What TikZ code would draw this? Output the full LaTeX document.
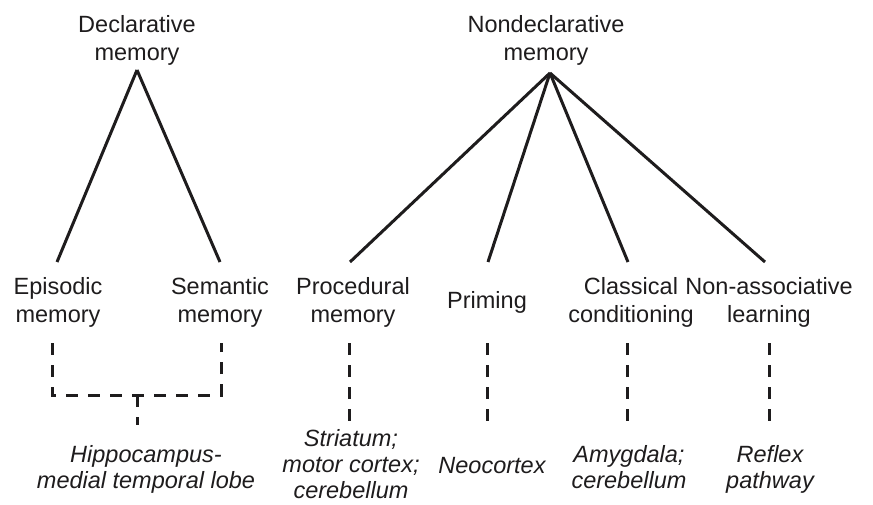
\documentclass[tikz,border=0pt]{standalone}
\usepackage{fontspec}
\setmainfont{Liberation Sans}
\usepackage{tikz}
\definecolor{ink}{RGB}{30,28,29}

\begin{document}
\begin{tikzpicture}[x=1pt,y=-1pt,
    lbl/.style={align=center,inner sep=0pt,anchor=base,text=ink,font=\fontsize{23.5}{28}\selectfont},
    area/.style={lbl,font=\fontsize{23.5}{26}\selectfont\itshape},
    tie/.style={draw=ink,line width=3pt},
    link/.style={tie,dash pattern=on 12pt off 10pt}]
        \useasboundingbox (0,0) rectangle (873,505);

        \node[lbl] (decl) at (137,61) {Declarative\\memory};
        \node[lbl] (nondecl) at (546,61) {Nondeclarative\\memory};
        \coordinate (dtop) at (137,70);
        \coordinate (ntop) at (550,73);

        \node[lbl] (epi) at (58,322) {Episodic\\memory};
        \node[lbl] (sem) at (220,322) {Semantic\\memory};
        \node[lbl] (proc) at (353,322) {Procedural\\memory};
        \node[lbl] (prim) at (487,308) {Priming};
        \node[lbl] (class) at (631,322) {Classical\\conditioning};
        \node[lbl] (nonass) at (769,322) {Non-associative\\learning};

        \coordinate (epiend) at (57,262);
        \coordinate (semend) at (220,262);
        \coordinate (procend) at (350,262);
        \coordinate (primend) at (488,262);
        \coordinate (classend) at (628,262);
        \coordinate (nonassend) at (765,262);
        \draw[tie] (dtop) -- (epiend);
        \draw[tie] (dtop) -- (semend);
        \draw[tie] (ntop) -- (procend);
        \draw[tie] (ntop) -- (primend);
        \draw[tie] (ntop) -- (classend);
        \draw[tie] (ntop) -- (nonassend);

        \node[area] (hip) at (146,488) {Hippocampus-\\medial temporal lobe};
        \node[area] (stri) at (351,498) {Striatum;\\motor cortex;\\cerebellum};
        \node[area] (neo) at (492,473) {Neocortex};
        \node[area] (amy) at (629,488) {Amygdala;\\cerebellum};
        \node[area] (refl) at (770,488) {Reflex\\pathway};

        \coordinate (mid) at (137,395);
        \draw[link] (52,343) -- (52,395) -- (mid) -- (221,395) -- (221,343);
        \draw[link] (mid) -- (137,425);
        \draw[link] (349,343) -- (349,422);
        \draw[link] (487,343) -- (487,422);
        \draw[link] (627,343) -- (627,422);
        \draw[link] (769,343) -- (769,422);
\end{tikzpicture}
\end{document}
